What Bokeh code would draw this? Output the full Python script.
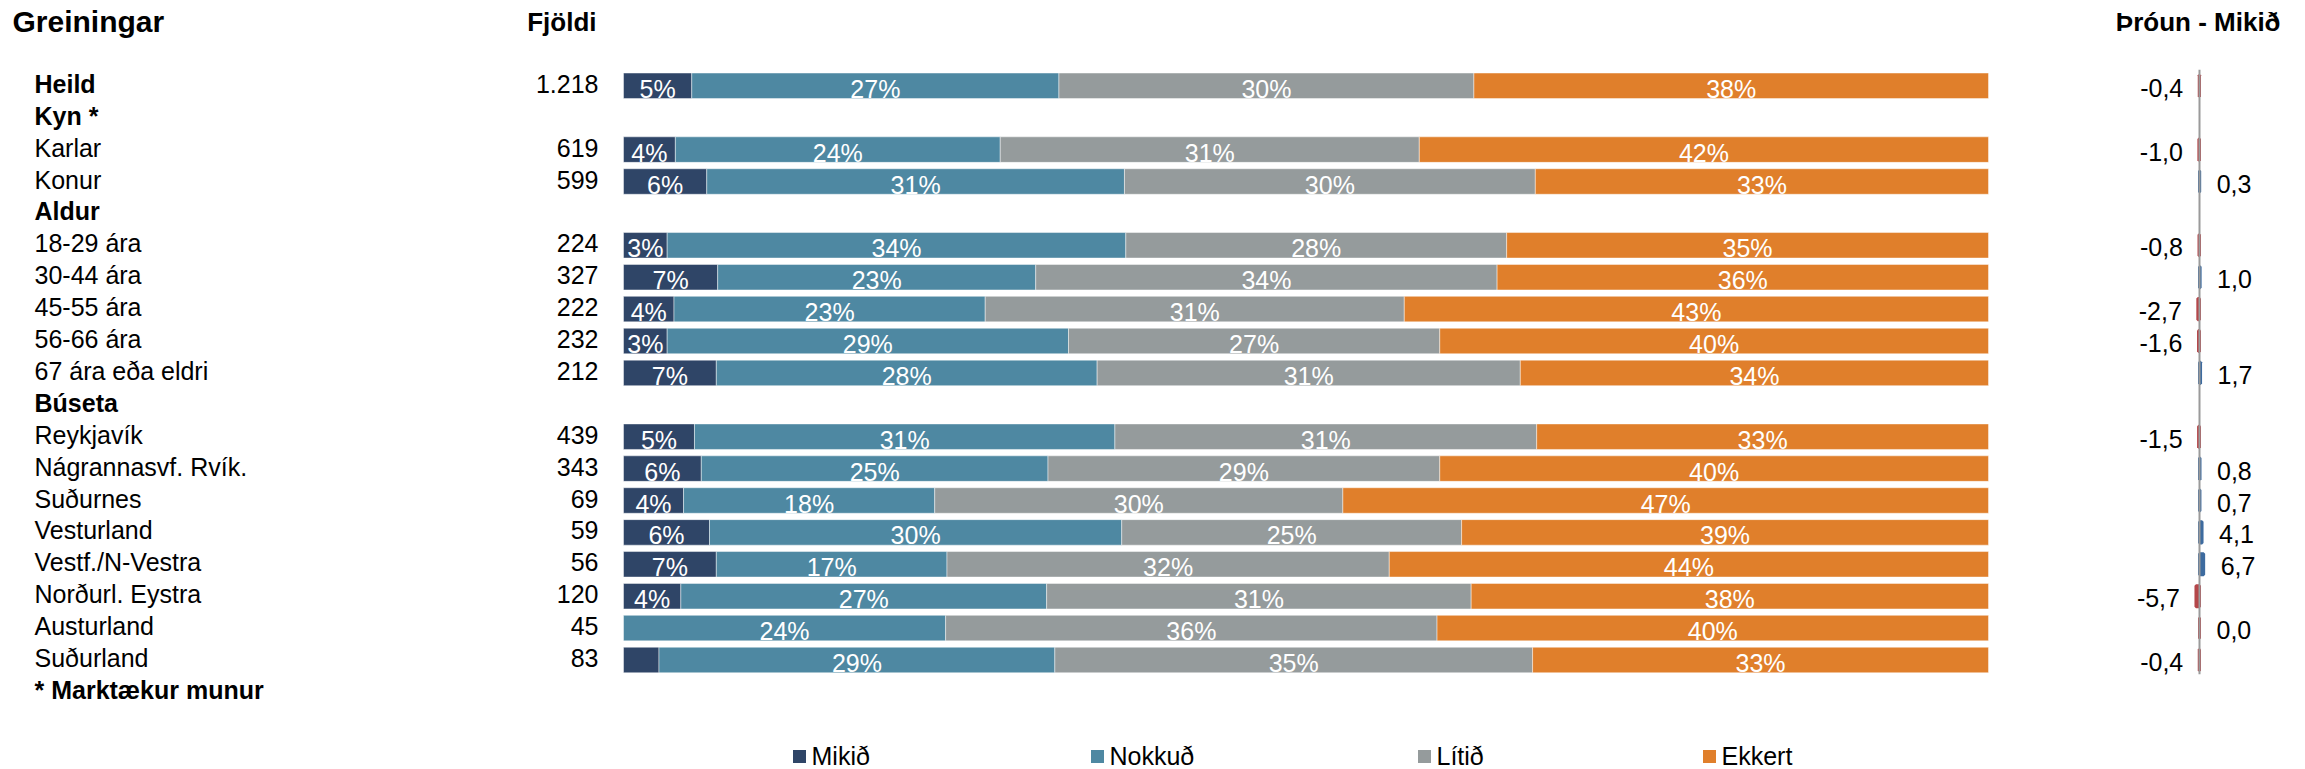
from bokeh.plotting import figure
from bokeh.models import Range1d, ColumnDataSource
from bokeh.core.properties import value
from bokeh.embed import file_html
from bokeh.resources import INLINE

# ---------------- data ----------------
categories = ["Heild", "Kyn *", "Karlar", "Konur", "Aldur", "18-29 ára", "30-44 ára",
              "45-55 ára", "56-66 ára", "67 ára eða eldri", "Búseta", "Reykjavík",
              "Nágrannasvf. Rvík.", "Suðurnes", "Vesturland", "Vestf./N-Vestra",
              "Norðurl. Eystra", "Austurland", "Suðurland", "* Marktækur munur"]
is_header = [True, True, False, False, True, False, False, False, False, False, True,
             False, False, False, False, False, False, False, False, True]
fjoldi = ["1.218", "", "619", "599", "", "224", "327", "222", "232", "212", "",
          "439", "343", "69", "59", "56", "120", "45", "83", ""]

series = ["Mikið", "Nokkuð", "Lítið", "Ekkert"]
mikid = [5.0, None, 3.8, 6.1, None, 3.2, 6.9, 3.7, 3.2, 6.8, None, 5.2, 5.7, 4.4, 6.3, 6.8, 4.2, 0.0, 2.6, None]
nokkud = [26.9, None, 23.8, 30.6, None, 33.6, 23.3, 22.8, 29.4, 27.9, None, 30.8, 25.4, 18.4, 30.2, 16.9, 26.8, 23.6, 29.0, None]
litid = [30.4, None, 30.7, 30.1, None, 27.9, 33.8, 30.7, 27.2, 31.0, None, 30.9, 28.7, 29.9, 24.9, 32.4, 31.1, 36.0, 35.0, None]
ekkert = [37.7, None, 41.7, 33.2, None, 35.3, 36.0, 42.8, 40.2, 34.3, None, 33.1, 40.2, 47.3, 38.6, 43.9, 37.9, 40.4, 33.4, None]

throun = [-0.4, None, -1.0, 0.3, None, -0.8, 1.0, -2.7, -1.6, 1.7, None,
          -1.5, 0.8, 0.7, 4.1, 6.7, -5.7, 0.0, -0.4, None]

colors = ["#2f4567", "#4e88a2", "#959b9c", "#e07f2b"]
pos_color = "#3d6b9f"
neg_color = "#b4474a"

# ---------------- layout ----------------
W, H = 2305, 769
ROW0 = 85.3      # px from top of frame to centre of first row
PITCH = 31.9     # px per row
BAR_L, BAR_W = 623, 1365     # px for 0% and width of 100%
TR_0, TR_SCALE = 2199, 0.62  # px of zero line and px per unit
FONT = value("Liberation Sans")

p = figure(width=W, height=H, output_backend="svg", toolbar_location=None,
           x_range=Range1d(0, W),
           y_range=Range1d((H - ROW0) / PITCH, -ROW0 / PITCH),
           x_axis_location=None, y_axis_location=None,
           min_border=0, min_border_left=0, min_border_right=0,
           min_border_top=0, min_border_bottom=0, outline_line_color=None)
p.grid.visible = False
p.extra_x_ranges = {
    "pct": Range1d(-BAR_L / (BAR_W / 100), (W - BAR_L) / (BAR_W / 100)),
    "trend": Range1d(-TR_0 / TR_SCALE, (W - TR_0) / TR_SCALE),
}

rows = list(range(len(categories)))

def row_to_y(px_from_top):
    return (px_from_top - ROW0) / PITCH

# headings
p.text(x=[12], y=[row_to_y(21)], text=["Greiningar"], text_font=FONT, text_font_size="30px",
       text_font_style="bold", text_baseline="middle", text_align="left", text_color="black")
p.text(x=[596], y=[row_to_y(21)], text=["Fjöldi"], text_font=FONT, text_font_size="26px",
       text_font_style="bold", text_baseline="middle", text_align="right", text_color="black")
p.text(x=[2280], y=[row_to_y(21)], text=["Þróun - Mikið"], text_font=FONT, text_font_size="26px",
       text_font_style="bold", text_baseline="middle", text_align="right", text_color="black")

# category labels
for bold in (False, True):
    idx = [i for i in rows if is_header[i] == bold]
    p.text(x=[34] * len(idx), y=idx, text=[categories[i] for i in idx], text_font=FONT,
           text_font_size="25px", text_font_style="bold" if bold else "normal",
           text_baseline="middle", text_align="left", text_color="black", y_offset=-2)

# counts
idx = [i for i in rows if fjoldi[i]]
p.text(x=[598] * len(idx), y=idx, text=[fjoldi[i] for i in idx], text_font=FONT,
       text_font_size="25px", text_baseline="middle", text_align="right",
       text_color="black", y_offset=-2)

# stacked bars
vals = [mikid, nokkud, litid, ekkert]
bar_rows = [i for i in rows if mikid[i] is not None]
left = {i: 0.0 for i in bar_rows}
for s, name in enumerate(series):
    ys, ls, rs, labs, lx, ly = [], [], [], [], [], []
    for i in bar_rows:
        v = vals[s][i]
        tot = sum(vv[i] for vv in vals)
        w = v / tot * 100
        if w > 0:
            ys.append(i); ls.append(left[i]); rs.append(left[i] + w)
        if v >= 3.0:
            labs.append(f"{int(v + 0.5)}%"); lx.append(left[i] + w / 2); ly.append(i)
        left[i] += w
    src = ColumnDataSource(dict(y=ys, left=ls, right=rs))
    p.hbar(y="y", left="left", right="right", height=0.8, source=src, x_range_name="pct",
           fill_color=colors[s], line_color="white", line_alpha=0.45, line_width=1)
    p.text(x=lx, y=ly, text=labs, x_range_name="pct", text_font=FONT, text_font_size="25px",
           text_color="white", text_align="center", text_baseline="middle", y_offset=3)

# trend bars
t_rows = [i for i in rows if throun[i] is not None]
t_vals = [throun[i] for i in t_rows]
t_cols = [pos_color if v > 0 else neg_color for v in t_vals]
p.hbar(y=t_rows, left=[0] * len(t_rows), right=t_vals, height=0.66, x_range_name="trend",
       fill_color=t_cols, line_color=t_cols, line_width=3)
p.segment(x0=[0], x1=[0], y0=[-0.5], y1=[18.45], x_range_name="trend",
          line_color="#9a9a9a", line_width=2)

def fmt(v):
    return f"{v:.1f}".replace(".", ",")

neg = [(i, v) for i, v in zip(t_rows, t_vals) if v < 0]
pos = [(i, v) for i, v in zip(t_rows, t_vals) if v >= 0]
p.text(x=[v for _, v in neg], y=[i for i, _ in neg], text=[fmt(v) for _, v in neg],
       x_range_name="trend", text_font=FONT, text_font_size="25px", text_align="right",
       text_baseline="middle", text_color="black", x_offset=-16, y_offset=2)
p.text(x=[v for _, v in pos], y=[i for i, _ in pos], text=[fmt(v) for _, v in pos],
       x_range_name="trend", text_font=FONT, text_font_size="25px", text_align="left",
       text_baseline="middle", text_color="black", x_offset=17, y_offset=2)

# legend
LEG_X = [799, 1097, 1424, 1709]
leg_y = row_to_y(756)
p.scatter(x=LEG_X, y=[leg_y] * 4, marker="square", size=13, fill_color=colors,
          line_color=None)
p.text(x=[x + 12 for x in LEG_X], y=[leg_y] * 4, text=series, text_font=FONT,
       text_font_size="25px", text_align="left", text_baseline="middle", text_color="black",
       y_offset=-1)

open("out.html", "w").write(file_html(p, INLINE))
